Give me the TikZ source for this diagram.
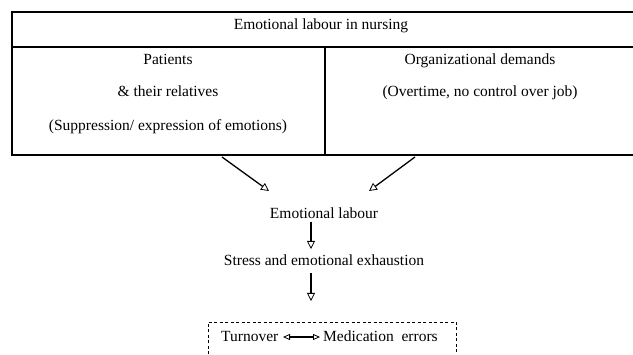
\documentclass[tikz,border=0pt]{standalone}
\usepackage{fontspec}
\setmainfont{Liberation Serif}
\usetikzlibrary{arrows.meta}
\begin{document}
\begin{tikzpicture}[x=1pt,y=-1pt,
  lbl/.style={font=\fontsize{15.5}{18}\selectfont, inner sep=0pt, anchor=base},
  rule/.style={line width=1.3pt},
  tip/.style={Triangle[open,length=8pt,width=8pt,line width=0.8pt]},
  flow/.style={line width=1.3pt, -{Triangle[open,length=8pt,width=8pt,line width=0.8pt]}},
  both/.style={line width=1.3pt, {Triangle[open,length=7pt,width=6pt,line width=0.8pt]}-{Triangle[open,length=7pt,width=6pt,line width=0.8pt]}}]
  \useasboundingbox (0,0) rectangle (633,355);
  % top table, open on the right
  \draw[rule] (640,12) -- (12,12) -- (12,155) -- (640,155);
  \draw[rule] (12,47) -- (640,47);
  \draw[rule] (325,47) -- (325,155);
  \node[lbl] (title) at (321,30) {Emotional labour in nursing};
  \node[lbl] (pat) at (168,65) {Patients};
  \node[lbl] (rel) at (168,97) {\& their relatives};
  \node[lbl] (sup) at (168,131) {(Suppression/ expression of emotions)};
  \node[lbl] (org) at (480,65) {Organizational demands};
  \node[lbl] (ovt) at (480,97) {(Overtime, no control over job)};
  % flow below the table
  \coordinate (l0) at (222,157);
  \coordinate (r0) at (415,157);
  \coordinate (l1) at (269,191);
  \coordinate (r1) at (369,191);
  \node[lbl] (emo) at (324,219) {Emotional labour};
  \node[lbl] (str) at (324,266) {Stress and emotional exhaustion};
  \draw[flow] (l0) -- (l1);
  \draw[flow] (r0) -- (r1);
  \coordinate (a0) at (311,222);
  \coordinate (a1) at (311,249);
  \coordinate (b0) at (311,273);
  \coordinate (b1) at (311,301);
  \draw[flow] (a0) -- (a1);
  \draw[flow] (b0) -- (b1);
  % outcomes box, continuing past the lower edge
  \draw[line width=0.8pt, dash pattern=on 3pt off 2.5pt] (208,360) -- (208,322) -- (456,322) -- (456,360);
  \node[lbl, anchor=base west] (turn) at (221,342) {Turnover};
  \node[lbl, anchor=base west] (med) at (323,342) {Medication\ \ errors};
  \coordinate (t1) at (283,337);
  \coordinate (m1) at (320,337);
  \draw[both] (t1) -- (m1);
\end{tikzpicture}
\end{document}
